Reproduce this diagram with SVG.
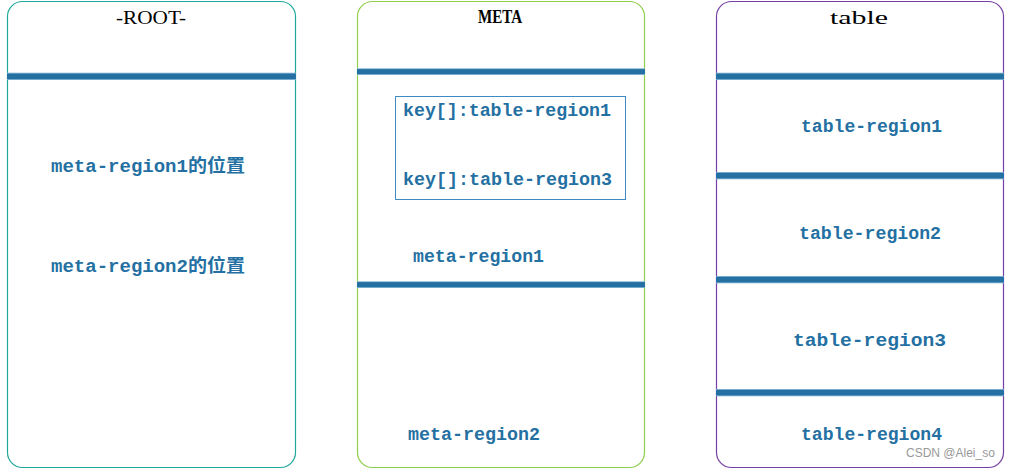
<svg xmlns="http://www.w3.org/2000/svg" width="1010" height="469" viewBox="0 0 1010 469">
<style>
.box{fill:#fff;stroke-width:1.2}
.bar{fill:#7fb2d4}
.barc{fill:#2470a2}
.t{font-family:"Liberation Mono","Noto Sans CJK SC",monospace;font-size:18px;font-weight:bold;fill:#2470a2}
.title{font-family:"Liberation Serif","Noto Sans CJK SC",serif;font-size:18px;fill:#000}
.wm{font-family:"Liberation Sans",sans-serif;font-size:12px;fill:#999}
</style>
<g id="root">
<rect class="box" x="7.5" y="1.5" width="288" height="466" rx="15" stroke="#1fa89c"/>
<text class="title" x="151" y="24" font-size="20.5" text-anchor="middle" textLength="70" lengthAdjust="spacingAndGlyphs">-ROOT-</text>
<rect class="bar" x="7" y="72.7" width="289" height="7.3"/>
<rect class="barc" x="7" y="73.6" width="289" height="5.5"/>
<text class="t" x="51" y="172" textLength="194" lengthAdjust="spacingAndGlyphs">meta-region1的位置</text>
<text class="t" x="51" y="272" textLength="194" lengthAdjust="spacingAndGlyphs">meta-region2的位置</text>
</g>
<g id="meta">
<rect class="box" x="357.5" y="1.5" width="287" height="466" rx="15" stroke="#8fcf4c"/>
<text class="title" x="500" y="23" font-size="19" text-anchor="middle" font-weight="bold" textLength="44" lengthAdjust="spacingAndGlyphs">META</text>
<rect class="bar" x="357" y="68.3" width="288" height="6.7"/>
<rect class="barc" x="357" y="69.1" width="288" height="5"/>
<rect class="bar" x="357" y="281.3" width="288" height="6.7"/>
<rect class="barc" x="357" y="282.1" width="288" height="5"/>
<rect x="395.5" y="96.5" width="230" height="103" fill="none" stroke="#3d8ac4" stroke-width="1"/>
<text class="t" x="403" y="116" textLength="208" lengthAdjust="spacingAndGlyphs">key[]:table-region1</text>
<text class="t" x="403" y="185" textLength="209" lengthAdjust="spacingAndGlyphs">key[]:table-region3</text>
<text class="t" x="413" y="262" textLength="131" lengthAdjust="spacingAndGlyphs">meta-region1</text>
<text class="t" x="408" y="440" textLength="132" lengthAdjust="spacingAndGlyphs">meta-region2</text>
</g>
<g id="table">
<rect class="box" x="716.5" y="1.5" width="287" height="466" rx="15" stroke="#7540a5"/>
<text class="title" x="859" y="24" font-size="20" text-anchor="middle" font-family="Liberation Mono" textLength="58" lengthAdjust="spacingAndGlyphs">table</text>
<rect class="bar" x="716" y="72.7" width="288" height="7.3"/>
<rect class="barc" x="716" y="73.6" width="288" height="5.5"/>
<rect class="bar" x="716" y="172" width="288" height="7.3"/>
<rect class="barc" x="716" y="172.9" width="288" height="5.5"/>
<rect class="bar" x="716" y="276" width="288" height="7.3"/>
<rect class="barc" x="716" y="276.9" width="288" height="5.5"/>
<rect class="bar" x="716" y="389" width="288" height="7.3"/>
<rect class="barc" x="716" y="389.9" width="288" height="5.5"/>
<text class="t" x="801" y="132" textLength="141" lengthAdjust="spacingAndGlyphs">table-region1</text>
<text class="t" x="799" y="239" textLength="142" lengthAdjust="spacingAndGlyphs">table-region2</text>
<text class="t" x="793" y="346" font-size="19.5" textLength="153" lengthAdjust="spacingAndGlyphs">table-region3</text>
<text class="t" x="801" y="440" textLength="141" lengthAdjust="spacingAndGlyphs">table-region4</text>
</g>
<g id="connectors"></g>
<text class="wm" x="906" y="457">CSDN @Alei_so</text>
</svg>
